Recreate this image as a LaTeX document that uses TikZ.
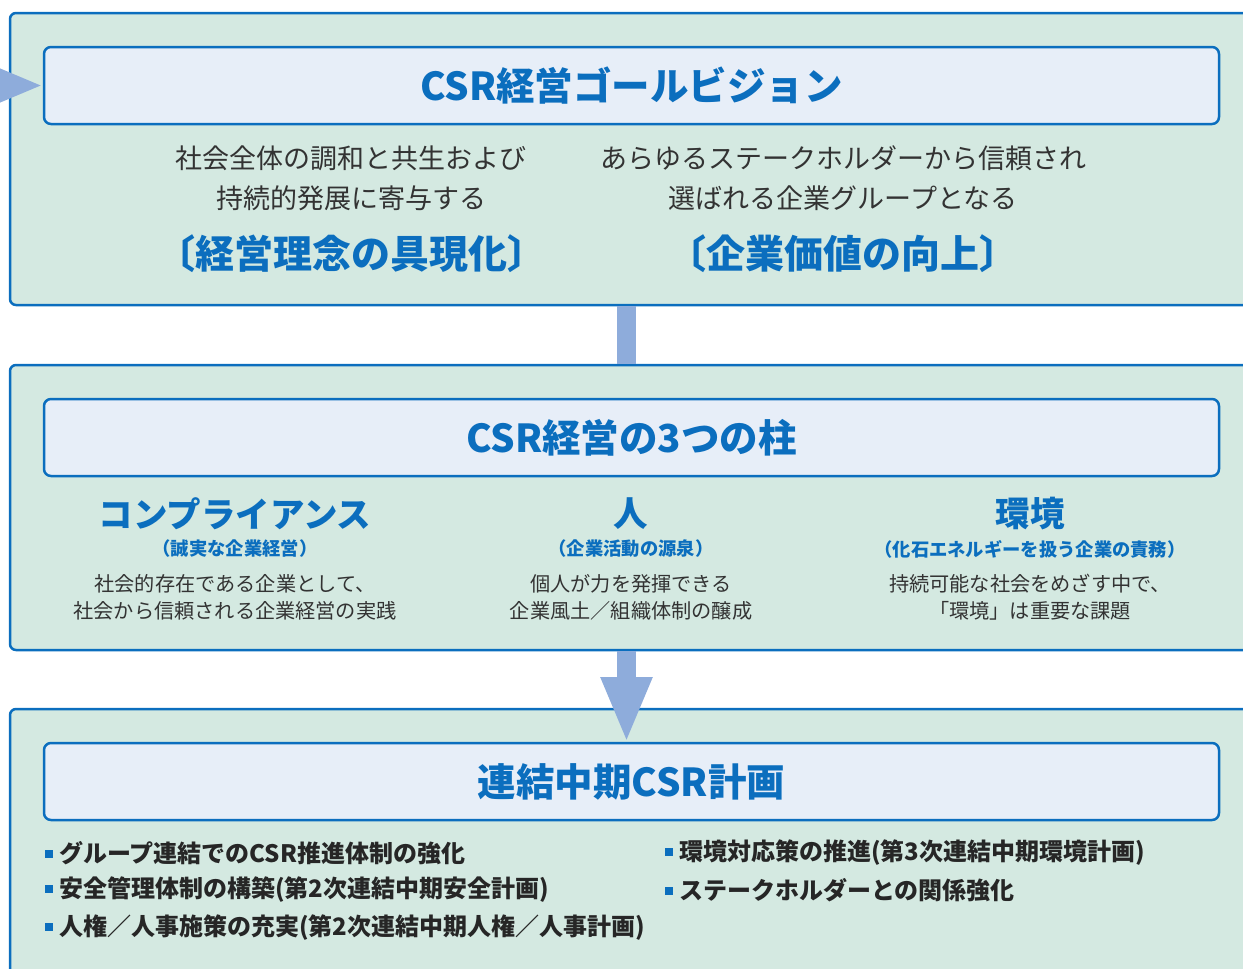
\documentclass[tikz,border=0pt]{standalone}
\usepackage{fontspec}
\setmainfont{Noto Sans CJK JP}
\usetikzlibrary{arrows.meta}
\definecolor{csrblue}{HTML}{0B6EBE}
\definecolor{panelgreen}{HTML}{D4E9E1}
\definecolor{boxblue}{HTML}{E7EEF8}
\definecolor{flowblue}{HTML}{8EACDB}
\definecolor{bodygray}{HTML}{333333}
\newcommand{\fs}[1]{\fontsize{#1}{1.35\dimexpr #1pt\relax}\selectfont}
\newcommand{\bul}{\textcolor{csrblue}{\rule[4.5pt]{8pt}{8pt}}\hspace{6pt}}
\begin{document}
\begin{tikzpicture}[x=1pt,y=-1pt]
        \tikzstyle{panel}=[draw=csrblue,line width=2.5pt,fill=panelgreen,rounded corners=6pt,inner sep=0pt,outer sep=0pt]
        \tikzstyle{titlebox}=[draw=csrblue,line width=2.5pt,fill=boxblue,rounded corners=7pt,minimum width=1175pt,minimum height=77pt,inner sep=0pt,outer sep=0pt,text=csrblue,font=\fs{38.5}\bfseries]
        \tikzstyle{body}=[text=bodygray,align=center,inner sep=0pt]
        \tikzstyle{motto}=[text=csrblue,font=\fs{39}\bfseries,inner sep=0pt]
        \tikzstyle{pillar}=[text=csrblue,font=\fs{34.5}\bfseries,inner sep=0pt]
        \tikzstyle{pillarsub}=[text=csrblue,font=\fs{18.3}\bfseries,inner sep=0pt]
        \tikzstyle{item}=[anchor=west,font=\fs{24}\bfseries,text=black!85,inner sep=0pt]
        \tikzstyle{link}=[draw=flowblue,line width=19pt]
        \tikzstyle{flow}=[draw=flowblue,line width=19pt,-{Triangle[width=47pt,length=66pt]}]
       \clip (0,0) rectangle (1243,969);
       \begin{scope}
         % panels
         \node [panel,minimum width=1252pt,minimum height=292pt] (goal) at (636,159) {};
         \node [panel,minimum width=1252pt,minimum height=285pt] (pillars) at (636,507.5) {};
         \node [panel,minimum width=1252pt,minimum height=281pt] (plan) at (636,849.5) {};
         \node [titlebox] (vision) at (631.5,85.5) {CSR経営ゴールビジョン};
         \node [titlebox] (three) at (631.5,437.5) {CSR経営の3つの柱};
         \node [titlebox] (midterm) at (631.5,781.5) {連結中期CSR計画};
        \end{scope}
       \begin{scope}
         % goal vision
         \node [body,font=\fontsize{27}{40}\selectfont] (harmony) at (351,178) {社会全体の調和と共生および\\持続的発展に寄与する};
         \node [body,font=\fontsize{27}{40}\selectfont] (trust) at (843,178) {あらゆるステークホルダーから信頼され\\選ばれる企業グループとなる};
         \node [motto] (philo) at (351,254) {〔経営理念の具現化〕};
         \node [motto] (value) at (843,254) {〔企業価値の向上〕};
        \end{scope}
       \begin{scope}
         % three pillars
         \node [pillar] (comp) at (235,514) {コンプライアンス};
         \node [pillar] (people) at (631,514) {人};
         \node [pillar] (env) at (1030,514) {環境};
         \node [pillarsub] (compsub) at (235,549) {（誠実な企業経営）};
         \node [pillarsub] (peoplesub) at (631,549) {（企業活動の源泉）};
         \node [pillarsub] (envsub) at (1030,549) {（化石エネルギーを扱う企業の責務）};
         \node [body,font=\fontsize{20.2}{27}\selectfont] (comptxt) at (235,597) {社会的存在である企業として、\\社会から信頼される企業経営の実践};
         \node [body,font=\fontsize{20.2}{27}\selectfont] (peopletxt) at (631,597) {個人が力を発揮できる\\企業風土／組織体制の醸成};
         \node [body,font=\fontsize{20.2}{27}\selectfont] (envtxt) at (1030,597) {持続可能な社会をめざす中で、\\「環境」は重要な課題};
        \end{scope}
       \begin{scope}
         % mid-term plan
         \node [item] (i1) at (45,853) {\bul グループ連結でのCSR推進体制の強化};
         \node [item] (i2) at (45,890) {\bul 安全管理体制の構築(第2次連結中期安全計画)};
         \node [item] (i3) at (45,928) {\bul 人権／人事施策の充実(第2次連結中期人権／人事計画)};
         \node [item] (i4) at (665,853) {\bul 環境対応策の推進(第3次連結中期環境計画)};
         \node [item] (i5) at (665,890) {\bul ステークホルダーとの関係強化};
        \end{scope}
       \coordinate (join) at (626.5,0);
       \coordinate (loopin) at (-150,85.5);
       \path[link,shorten <=1.25pt,shorten >=1.25pt] (goal.south -| join) -- (pillars.north -| join);
       \path[flow,shorten <=1.25pt] (pillars.south -| join) -- (midterm.north -| join);
       \path[flow] (loopin) -- (vision.west);
      \end{tikzpicture}
\end{document}
